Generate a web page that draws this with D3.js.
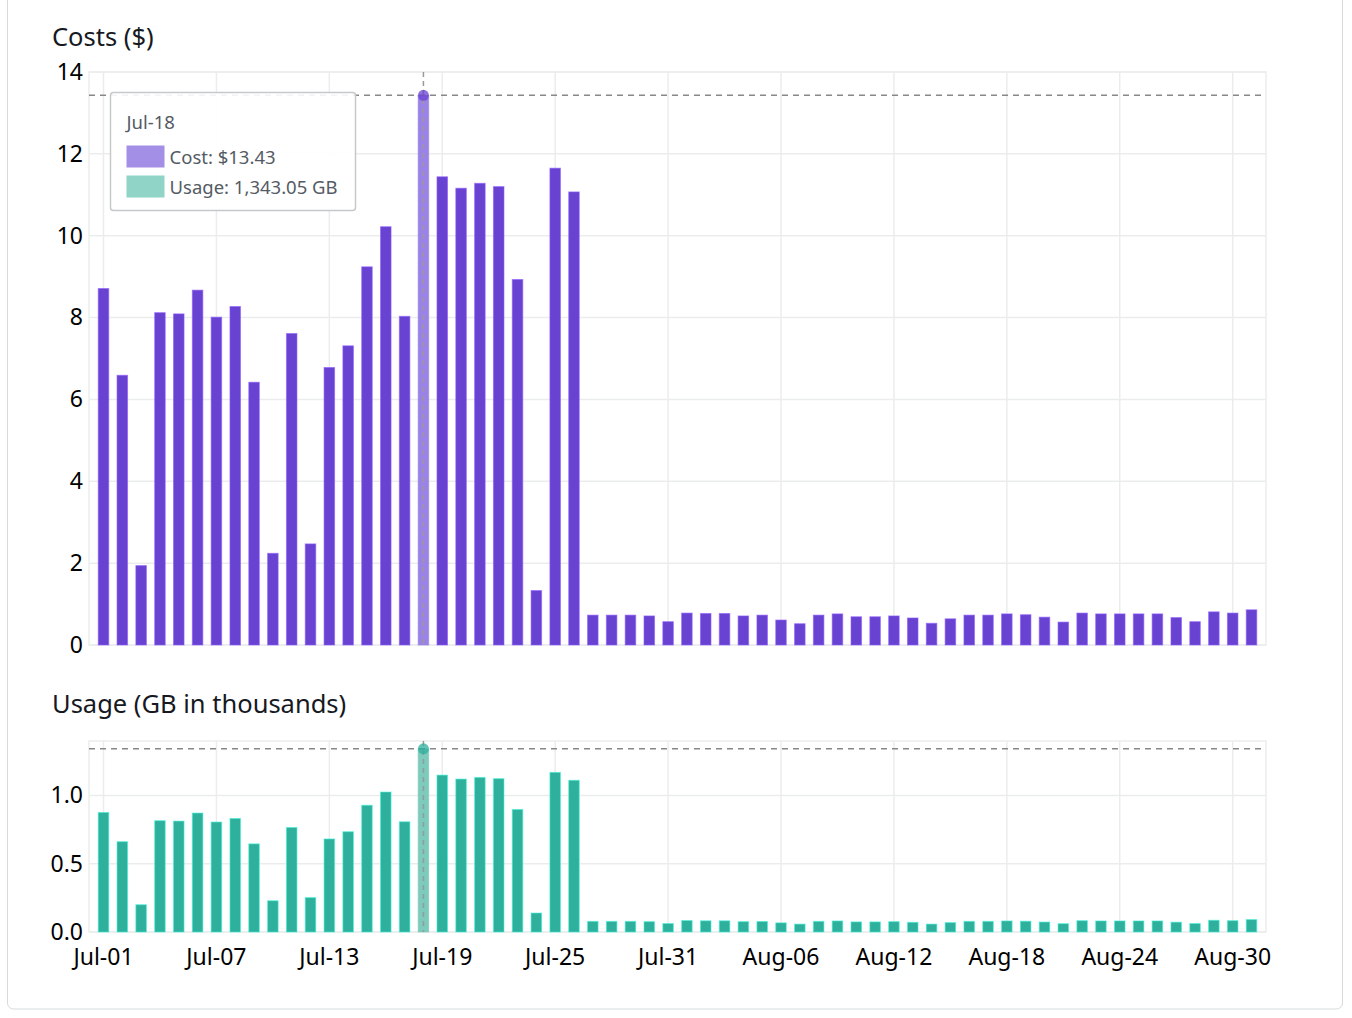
<!DOCTYPE html>
<html>
<head>
<meta charset="utf-8">
<script src="https://cdn.jsdelivr.net/npm/d3@7"></script>
<style>
  html, body { margin: 0; padding: 0; background: #fff; }
  svg { display: block; font-family: "Noto Sans", "Open Sans", sans-serif; }
</style>
</head>
<body>
<svg id="chart" width="1352" height="1018"></svg>
<script>
// days, Jul-01 .. Aug-31
const days = [
  'Jul-01','Jul-02','Jul-03','Jul-04','Jul-05','Jul-06','Jul-07','Jul-08','Jul-09','Jul-10',
  'Jul-11','Jul-12','Jul-13','Jul-14','Jul-15','Jul-16','Jul-17','Jul-18','Jul-19','Jul-20',
  'Jul-21','Jul-22','Jul-23','Jul-24','Jul-25','Jul-26','Jul-27','Jul-28','Jul-29','Jul-30',
  'Jul-31','Aug-01','Aug-02','Aug-03','Aug-04','Aug-05','Aug-06','Aug-07','Aug-08','Aug-09',
  'Aug-10','Aug-11','Aug-12','Aug-13','Aug-14','Aug-15','Aug-16','Aug-17','Aug-18','Aug-19',
  'Aug-20','Aug-21','Aug-22','Aug-23','Aug-24','Aug-25','Aug-26','Aug-27','Aug-28','Aug-29',
  'Aug-30','Aug-31'
];

// daily cost ($)
const costs = [
  8.71, 6.59, 1.94, 8.12, 8.09, 8.67, 8.01, 8.27, 6.42, 2.24,
  7.61, 2.47, 6.78, 7.31, 9.24, 10.22, 8.03, 13.43, 11.44, 11.16,
  11.28, 11.20, 8.93, 1.33, 11.65, 11.07, 0.73, 0.73, 0.73, 0.71,
  0.57, 0.78, 0.77, 0.77, 0.71, 0.73, 0.61, 0.52, 0.73, 0.76,
  0.69, 0.69, 0.71, 0.66, 0.53, 0.64, 0.73, 0.73, 0.76, 0.74,
  0.68, 0.56, 0.78, 0.76, 0.76, 0.76, 0.76, 0.67, 0.57, 0.81,
  0.78, 0.86
];

// daily usage (GB in thousands)
const usage = [
  0.876, 0.662, 0.200, 0.816, 0.813, 0.872, 0.806, 0.832, 0.646, 0.229,
  0.766, 0.252, 0.682, 0.735, 0.929, 1.026, 0.808, 1.343, 1.150, 1.121,
  1.133, 1.124, 0.898, 0.139, 1.170, 1.112, 0.078, 0.078, 0.078, 0.076,
  0.062, 0.084, 0.082, 0.082, 0.076, 0.077, 0.067, 0.058, 0.078, 0.081,
  0.074, 0.074, 0.076, 0.071, 0.058, 0.069, 0.078, 0.078, 0.081, 0.079,
  0.073, 0.061, 0.083, 0.081, 0.081, 0.081, 0.081, 0.072, 0.062, 0.086,
  0.083, 0.091
];

const xTickLabels = ['Jul-01','Jul-07','Jul-13','Jul-19','Jul-25','Jul-31','Aug-06','Aug-12','Aug-18','Aug-24','Aug-30'];
const costTicks = [0, 2, 4, 6, 8, 10, 12, 14];
const usageTicks = [0, 0.5, 1.0];

const hoverDay = 'Jul-18';
const hoverCost = '$13.43';
const hoverUsage = '1,343.05 GB';

const purple = '#6842d1', purpleLight = '#9b82e6';
const teal = '#2eb09d', tealLight = '#7ccbbd';
const gridColor = '#ebeded';
const textColor = '#16191f';

const svg = d3.select('#chart');

// card frame
svg.append('rect')
  .attr('x', 7.5).attr('y', -12).attr('width', 1335).attr('height', 1021)
  .attr('rx', 6).attr('fill', '#fff').attr('stroke', '#d5dbdb');

const x = d3.scaleBand()
  .domain(days)
  .range([89, 1266])
  .paddingInner(0.44)
  .paddingOuter(0.49);
const xc = d => x(d) + x.bandwidth() / 2;

function panel({ title, titleY, top, bottom, domain, ticks, fmt, values, color, light, showX }) {
  const y = d3.scaleLinear().domain(domain).range([bottom, top]);
  const g = svg.append('g');

  g.append('text')
    .attr('x', 52).attr('y', titleY)
    .attr('font-size', '25.5px').attr('fill', textColor)
    .text(title);

  // grid
  const grid = g.append('g');
  grid.selectAll('line.h')
    .data(ticks).enter().append('line')
    .attr('x1', 89).attr('x2', 1266)
    .attr('y1', d => y(d)).attr('y2', d => y(d))
    .attr('stroke', gridColor).attr('stroke-width', 1.5);
  grid.selectAll('line.v')
    .data(xTickLabels).enter().append('line')
    .attr('x1', d => xc(d)).attr('x2', d => xc(d))
    .attr('y1', top).attr('y2', bottom)
    .attr('stroke', gridColor).attr('stroke-width', 1.5);
  grid.append('rect')
    .attr('x', 89).attr('y', top).attr('width', 1266 - 89).attr('height', bottom - top)
    .attr('fill', 'none').attr('stroke', gridColor).attr('stroke-width', 1.5);

  // y axis labels
  const yAxis = g.append('g')
    .attr('transform', 'translate(89,0)')
    .call(d3.axisLeft(y).tickValues(ticks).tickFormat(fmt).tickSize(0).tickPadding(6));
  yAxis.select('.domain').remove();
  yAxis.selectAll('text')
    .attr('font-size', '23px').attr('fill', '#000')
    .attr('font-family', '"Noto Sans", sans-serif');

  if (showX) {
    const xAxis = g.append('g')
      .attr('transform', `translate(0,${bottom})`)
      .call(d3.axisBottom(x).tickValues(xTickLabels).tickSize(0).tickPadding(17));
    xAxis.select('.domain').remove();
    xAxis.selectAll('text')
      .attr('font-size', '23px').attr('fill', '#000')
      .attr('font-family', '"Noto Sans", sans-serif');
  }

  // bars
  const data = days.map((d, i) => ({ day: d, v: values[i] }));
  g.append('g').selectAll('rect')
    .data(data).enter().append('rect')
    .attr('x', d => x(d.day))
    .attr('y', d => y(d.v))
    .attr('width', x.bandwidth())
    .attr('height', d => y(0) - y(d.v))
    .attr('fill', d => d.day === hoverDay ? light : color)
    .attr('stroke', d => d.day === hoverDay ? light : d3.color(color).brighter(0.9))
    .attr('stroke-opacity', 0.6)
    .attr('stroke-width', 1);

  // hover crosshair
  const hv = values[days.indexOf(hoverDay)];
  g.append('line')
    .attr('x1', 89).attr('x2', 1266)
    .attr('y1', y(hv)).attr('y2', y(hv))
    .attr('stroke', '#888').attr('stroke-width', 1.5)
    .attr('stroke-dasharray', '6,5');
  g.append('line')
    .attr('x1', xc(hoverDay)).attr('x2', xc(hoverDay))
    .attr('y1', top).attr('y2', bottom)
    .attr('stroke', '#999').attr('stroke-width', 1.5)
    .attr('stroke-dasharray', '5,4');
  g.append('circle')
    .attr('cx', xc(hoverDay)).attr('cy', y(hv))
    .attr('r', 5.5)
    .attr('fill', color).attr('fill-opacity', 0.75);
}

panel({
  title: 'Costs ($)', titleY: 46, top: 72, bottom: 645,
  domain: [0, 14], ticks: costTicks, fmt: d3.format('d'),
  values: costs, color: purple, light: purpleLight, showX: false
});

panel({
  title: 'Usage (GB in thousands)', titleY: 713, top: 741, bottom: 932,
  domain: [0, 1.4], ticks: usageTicks, fmt: d3.format('.1f'),
  values: usage, color: teal, light: tealLight, showX: true
});

// tooltip
const tip = svg.append('g').attr('transform', 'translate(110.5,92.5)');
tip.append('rect')
  .attr('width', 245).attr('height', 118).attr('rx', 3)
  .attr('fill', '#fff').attr('fill-opacity', 0.9)
  .attr('stroke', '#c6c9cc').attr('stroke-width', 1.5);
tip.append('text')
  .attr('x', 16).attr('y', 36)
  .attr('font-size', '18.5px').attr('fill', '#545b64')
  .text(hoverDay);
const rows = [
  { label: `Cost: ${hoverCost}`, fill: '#a48fe6' },
  { label: `Usage: ${hoverUsage}`, fill: '#8fd4c7' }
];
rows.forEach((r, i) => {
  tip.append('rect')
    .attr('x', 16).attr('y', 53 + i * 30)
    .attr('width', 38).attr('height', 22)
    .attr('fill', r.fill);
  tip.append('text')
    .attr('x', 59).attr('y', 71 + i * 30)
    .attr('font-size', '18.5px').attr('fill', '#545b64')
    .text(r.label);
});
</script>
</body>
</html>
